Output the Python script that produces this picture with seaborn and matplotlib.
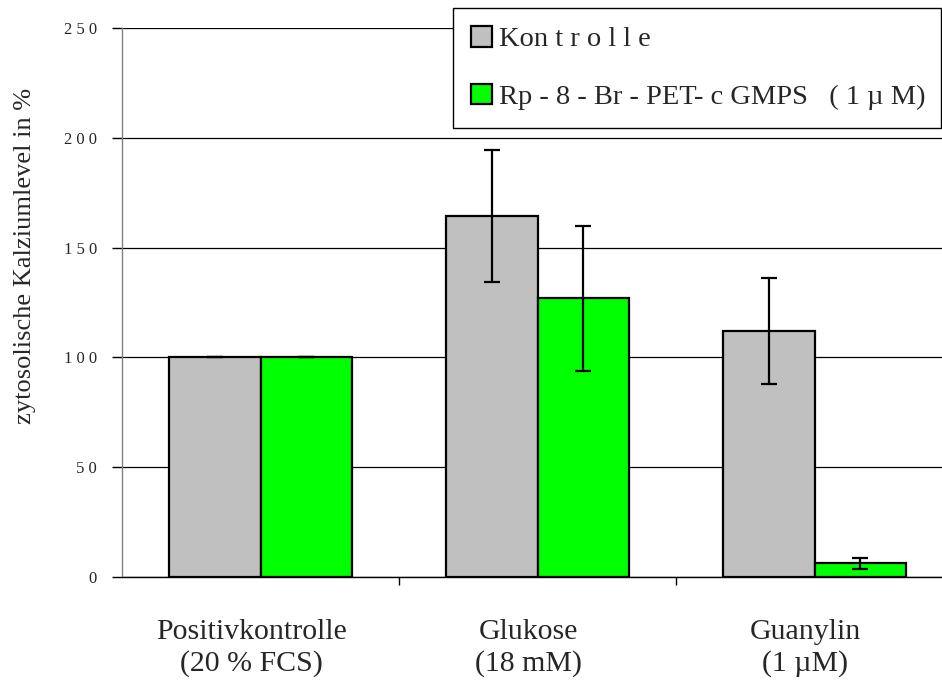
import matplotlib
matplotlib.use("Agg")
import matplotlib.pyplot as plt
from matplotlib.patches import Patch
from matplotlib.ticker import FixedLocator, FuncFormatter
from matplotlib.transforms import ScaledTranslation
import seaborn as sns
import pandas as pd

# Kategorien und Messwerte
gruppen = ["Positivkontrolle\n(20 % FCS)", "Glukose\n(18 mM)", "Guanylin\n(1 µM)"]
behandlungen = ["Kon t r o l l e", "Rp - 8 - Br - PET- c GMPS   ( 1 µ M)"]
werte_kontrolle = [100.0, 164.5, 112.0]
werte_rp = [100.0, 127.0, 6.2]
fehler_kontrolle = [0.0, 30.0, 24.0]
fehler_rp = [0.0, 33.0, 2.5]
y_ticks = [0, 50, 100, 150, 200, 250]

farben = ["#C0C0C0", "#00FF00"]

df = pd.DataFrame({
    "Gruppe": gruppen * 2,
    "Behandlung": [behandlungen[0]] * 3 + [behandlungen[1]] * 3,
    "Wert": werte_kontrolle + werte_rp,
})

sns.set_style("white")
plt.rcParams["font.family"] = ["Liberation Serif", "DejaVu Serif"]

fig = plt.figure(figsize=(9.42, 6.85), dpi=100)
ax = fig.add_axes([122 / 942, 1 - 577 / 685, 831 / 942, 549 / 685])

sns.barplot(data=df, x="Gruppe", y="Wert", hue="Behandlung", palette=farben,
            errorbar=None, width=0.664, edgecolor="black", linewidth=1.6,
            saturation=1, legend=False, ax=ax, zorder=3)

# Fehlerbalken auf die Balkenmitten setzen
for container, fehler in zip(ax.containers, [fehler_kontrolle, fehler_rp]):
    for bar, e in zip(container, fehler):
        xc = bar.get_x() + bar.get_width() / 2
        ax.errorbar(xc, bar.get_height(), yerr=e, fmt="none", ecolor="black",
                    elinewidth=1.6, capsize=5.8, capthick=1.6, zorder=4)

ax.set_xlim(-0.5, 2.5)
ax.set_ylim(0, 250)
ax.yaxis.set_major_locator(FixedLocator(y_ticks))
ax.yaxis.set_major_formatter(FuncFormatter(lambda v, p: " ".join(str(int(v)))))
ax.grid(axis="y", color="black", linewidth=0.9, zorder=0)
ax.set_axisbelow(True)

for s in ["top", "right"]:
    ax.spines[s].set_visible(False)
ax.spines["left"].set_color("#808080")
ax.spines["left"].set_linewidth(1.0)
ax.spines["bottom"].set_color("black")
ax.spines["bottom"].set_linewidth(1.0)

ax.tick_params(axis="y", which="major", direction="out", length=7, width=1.0,
               color="black", labelsize=12, pad=11, left=True)
ax.tick_params(axis="x", which="major", length=0, labelsize=21.5, pad=30)
# Kategorienbeschriftungen leicht nach links versetzt
shift = ScaledTranslation(-0.09, 0, fig.dpi_scale_trans)
for lbl in ax.get_xticklabels():
    lbl.set_linespacing(1.25)
    lbl.set_transform(lbl.get_transform() + shift)
ax.xaxis.set_minor_locator(FixedLocator([0.5, 1.5]))
ax.tick_params(axis="x", which="minor", direction="out", length=6, width=1.0,
               color="black", bottom=True)

ax.set_xlabel("")
ax.set_ylabel("zytosolische Kalziumlevel in %", fontsize=19)
ax.yaxis.set_label_coords(-0.103, 0.585)

handles = [Patch(facecolor=farben[i], edgecolor="black", linewidth=1.6,
                 label=behandlungen[i]) for i in range(2)]
leg = fig.legend(handles=handles, loc="upper left",
                 bbox_to_anchor=(453 / 942, 1 - 126 / 685, 488 / 942, 118 / 685),
                 mode="expand", borderaxespad=0, fancybox=False, framealpha=1,
                 edgecolor="black", fontsize=20.5, handlelength=0.74,
                 handleheight=0.74, handletextpad=0.25, labelspacing=1.1,
                 borderpad=0.64)
leg.get_frame().set_linewidth(1.0)

fig.savefig("out.png", dpi=100)
